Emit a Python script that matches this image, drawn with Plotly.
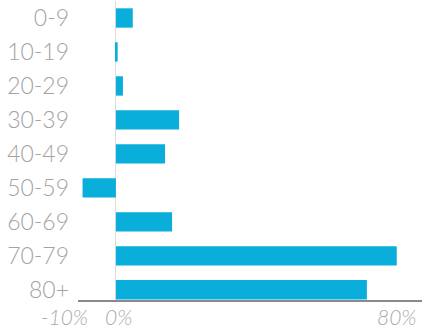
import plotly.graph_objects as go

categories = ["0-9", "10-19", "20-29", "30-39", "40-49", "50-59", "60-69", "70-79", "80+"]
values = [4.8, 0.5, 2.0, 18.0, 14.0, -9.5, 16.0, 80.0, 71.5]
tick_vals = [-10, 0, 80]
tick_text = ["-10%", "0%", "80%"]
tick_shift = [-16, 3, 0]

fig = go.Figure(go.Bar(
    x=values, y=categories, orientation="h",
    marker=dict(color="#0AAEDB", line=dict(width=0)),
))

for v, t, s in zip(tick_vals, tick_text, tick_shift):
    fig.add_annotation(
        x=v, xref="x", y=0, yref="paper", yanchor="top", yshift=-2,
        xanchor="center", xshift=s, text=t, showarrow=False,
        font=dict(family="Lato", size=21, color="#aaaaaa", style="italic", weight=300),
    )

fig.update_layout(
    width=425, height=330,
    margin=dict(l=78, r=3, t=1, b=30),
    paper_bgcolor="white", plot_bgcolor="white",
    bargap=0.43,
    showlegend=False,
    font=dict(family="Lato", color="#9a9a9a"),
)
fig.update_yaxes(
    categoryorder="array", categoryarray=categories,
    range=[8.3, -0.5], automargin=False,
    showgrid=False, zeroline=False, showline=False, ticks="",
    ticklabelstandoff=8,
    tickfont=dict(size=23, color="#a3a3a3", weight=300),
)
fig.update_xaxes(
    range=[-10.8, 87.2], automargin=False,
    showticklabels=False,
    showgrid=False,
    zeroline=True, zerolinecolor="#dddddd", zerolinewidth=1,
    showline=True, linecolor="#8a8a8a", linewidth=2,
    ticks="",
)

fig.write_html(
    "out.html",
    config={"displayModeBar": False},
    post_script="document.body.style.margin='0';document.body.style.overflow='hidden';",
)
